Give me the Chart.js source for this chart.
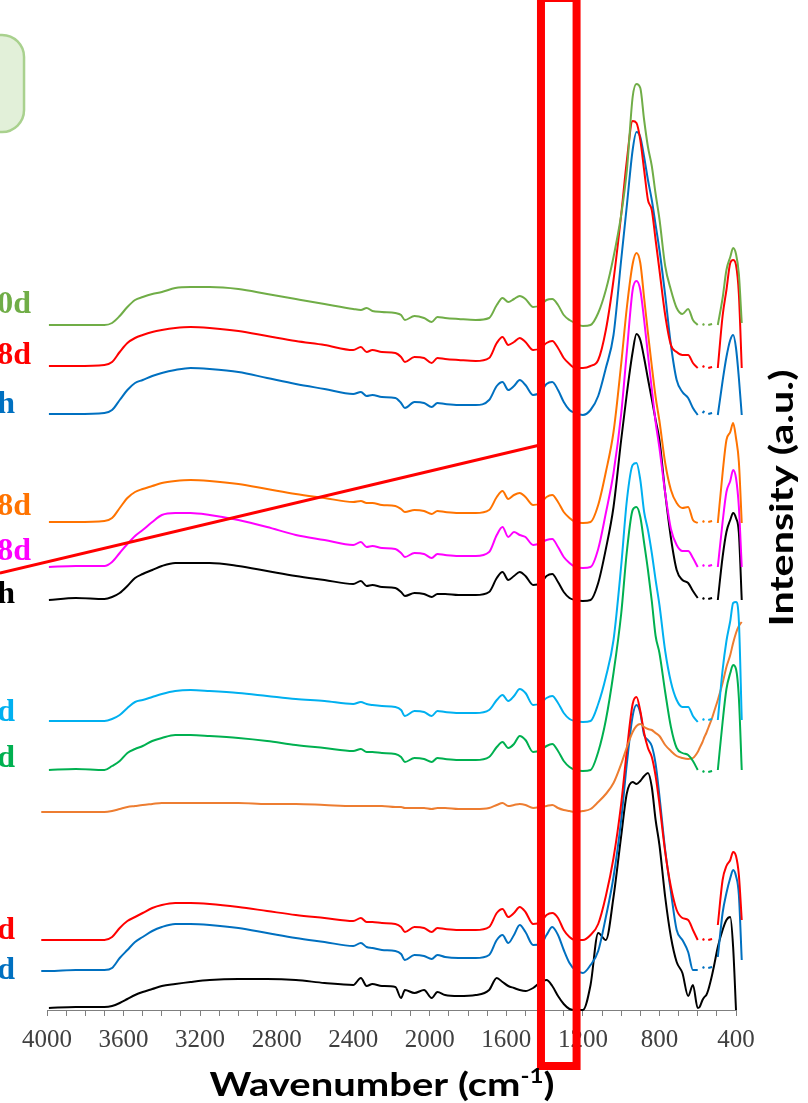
<!DOCTYPE html>
<html>
<head>
<meta charset="utf-8">
<title>FTIR spectra</title>
<script src="https://cdn.jsdelivr.net/npm/chart.js@4.4.1/dist/chart.umd.min.js"></script>
<style>
  html, body { margin: 0; padding: 0; background: #fff; }
  #wrap { width: 808px; height: 1103px; }
</style>
</head>
<body>
<div id="wrap"><canvas id="ftir" width="808" height="1103"></canvas></div>
<script>
'use strict';

// ── Data ────────────────────────────────────────────────────────────────
// shared wavenumber grid (cm-1); null in a series = no data there
const wavenumbers = [
  4030, 3990, 3850, 3700, 3660, 3620, 3580, 3540, 3500, 3450, 3400, 3330, 3250, 3150, 3000, 2850, 2700, 2550,
  2400, 2360, 2330, 2300, 2250, 2180, 2150, 2130, 2080, 2030, 1990, 1960, 1920, 1850, 1760, 1690,
  1650, 1620, 1590, 1560, 1530, 1500, 1460, 1420, 1390, 1360, 1330, 1300, 1270, 1240,
  1200, 1160, 1120, 1080, 1040, 1000, 970, 940, 920, 900, 880, 860, 840, 820, 800, 770, 740, 710, 680, 650, 625,
  600, 590, 575, 565, 555, 545, 525, 515, 495, 470, 450, 430, 415, 400, 385, 370
];

// stacked intensities (a.u.), top spectrum first
const green0d = [
  null, 685, 685, 685, 687, 694, 703, 710, 713, 716, 718, 722, 723, 723, 721, 716, 711, 706,
  701, 700, 702, 699, 698, 697, 695, 690, 694, 692, 688, 693, 692, 691, 690, 692,
  705, 712, 708, 711, 714, 711, 703, 705, 710, 711, 705, 695, 690, 687,
  684, 685, 697, 720, 753, 795, 840, 913, 926, 922, 890, 863, 844, 816, 791, 744, 720, 702, 696, 701, 690,
  685, null, 685, 686, null, 685, 686, null, 685, 712, 740, 753, 762, 756, 736, 687
];
const red8dTop = [
  null, 644, 644, 645, 648, 658, 667, 672, 675, 678, 680, 682, 683, 682, 679, 674, 669, 665,
  660, 663, 658, 660, 658, 657, 653, 648, 653, 652, 647, 652, 651, 650, 649, 652,
  667, 673, 665, 668, 672, 668, 660, 662, 667, 669, 662, 652, 646, 642,
  642, 644, 650, 680, 730, 795, 850, 889, 887, 870, 840, 810, 800, 770, 740, 695, 665, 658, 655, 655, 647,
  642, null, 643, 644, null, 642, 643, null, 642, 694, 720, 747, 750, 745, 716, 642
];
const blueHTop = [
  null, 596, 596, 597, 600, 610, 620, 627, 630, 634, 637, 640, 642, 641, 638, 632, 626, 621,
  616, 618, 614, 615, 613, 612, 607, 602, 608, 607, 603, 607, 606, 605, 605, 610,
  624, 628, 620, 624, 630, 625, 615, 618, 626, 628, 620, 608, 600, 597,
  595, 600, 614, 642, 675, 750, 805, 860, 878, 873, 853, 830, 810, 785, 760, 715, 665, 630, 618, 612, 602,
  595, null, 597, 599, null, 596, 597, null, 595, 629, 653, 670, 675, 662, 632, 595
];
const orange8d = [
  null, 488, 488, 489, 492, 502, 512, 518, 521, 524, 527, 529, 530, 529, 526, 521, 516, 512,
  508, 509, 507, 507, 505, 504, 501, 498, 500, 499, 496, 499, 498, 497, 497, 500,
  513, 519, 511, 515, 517, 513, 505, 507, 513, 515, 508, 498, 492, 488,
  487, 488, 505, 538, 578, 646, 703, 746, 757, 747, 712, 677, 644, 613, 589, 547, 520, 507, 502, 503, 490,
  487, null, 488, 489, null, 488, 489, null, 487, 537, 570, 578, 587, 572, 548, 487
];
const magenta8d = [
  null, 443, 444, 444, 448, 457, 466, 474, 480, 488, 495, 497, 497, 495, 490, 483, 475, 470,
  465, 468, 463, 464, 462, 461, 457, 453, 457, 456, 452, 456, 455, 454, 454, 458,
  475, 483, 473, 478, 475, 473, 465, 467, 470, 471, 463, 453, 447, 443,
  442, 443, 461, 497, 537, 596, 659, 720, 729, 720, 690, 655, 621, 588, 562, 517, 481, 465, 459, 459, 452,
  443, null, 444, 445, null, 444, 445, null, 443, 488, 518, 529, 540, 532, 503, 443
];
const blackH = [
  null, 410, 412, 411, 413, 417, 424, 432, 436, 440, 444, 447, 447, 447, 444, 439, 434, 430,
  426, 429, 424, 425, 423, 422, 418, 414, 417, 416, 413, 416, 416, 415, 415, 418,
  432, 438, 430, 434, 438, 434, 425, 427, 434, 436, 428, 418, 412, 410,
  409, 410, 427, 461, 503, 570, 617, 658, 676, 670, 652, 631, 611, 590, 570, 517, 472, 440, 430, 427, 419,
  412, null, 411, 412, null, 411, 412, null, 410, 453, 478, 490, 497, 492, 477, 410
];
const skyBlueD = [
  null, 289, 289, 289, 291, 295, 302, 308, 310, 313, 316, 319, 320, 319, 317, 314, 311, 309,
  306, 308, 306, 305, 304, 303, 300, 294, 299, 298, 294, 299, 298, 297, 297, 300,
  310, 315, 309, 314, 321, 317, 305, 307, 312, 314, 307, 297, 291, 289,
  288, 289, 306, 333, 370, 444, 510, 545, 547, 530, 498, 480, 457, 430, 405, 359, 328, 310, 303, 303, 294,
  288, null, 290, 291, null, 290, 291, null, 290, 340, 369, 389, 407, 408, 389, 290
];
const greenD = [
  null, 240, 241, 240, 244, 249, 257, 261, 264, 269, 272, 275, 275, 274, 272, 269, 265, 262,
  259, 261, 258, 258, 257, 256, 253, 248, 252, 251, 248, 252, 251, 250, 250, 253,
  263, 268, 262, 266, 274, 270, 258, 260, 264, 266, 259, 249, 243, 240,
  239, 240, 258, 290, 337, 396, 459, 500, 503, 493, 467, 440, 409, 374, 357, 318, 283, 262, 257, 255, 249,
  240, null, 238, 239, null, 238, 239, null, 240, 288, 321, 337, 345, 341, 312, 240
];
const orangeFlat = [
  198, 198, 198, 198, 199, 201, 203, 204, 205, 206, 207, 207, 207, 207, 207, 206, 206, 205,
  204, 204, 204, 204, 204, 203, 203, 202, 202, 202, 201, 202, 202, 201, 201, 202,
  205, 207, 204, 205, 206, 205, 202, 203, 204, 205, 202, 200, 199, 198,
  199, 201, 208, 216, 227, 246, 263, 278, 284, 286, 283, 281, 280, 277, 274, 265, 259, 254, 252, 251, 252,
  258, 262, 268, 273, 277, 282, 292, 298, 310, 327, 343, 355, 367, 377, 384, 388
];
const redD = [
  70, 70, 70, 70, 73, 82, 89, 93, 97, 102, 105, 107, 107, 106, 103, 99, 95, 92,
  89, 92, 88, 88, 87, 86, 83, 78, 83, 82, 78, 82, 81, 80, 80, 83,
  97, 101, 93, 97, 103, 98, 86, 88, 95, 97, 92, 80, 73, 70,
  70, 75, 86, 114, 152, 206, 260, 306, 313, 299, 277, 262, 253, 234, 206, 158, 123, 100, 92, 90, 80,
  70, null, 70, 71, null, 70, 71, null, 85, 130, 144, 150, 158, 154, 135, 90
];
const blueD = [
  39, 39, 40, 40, 42, 52, 60, 68, 73, 79, 83, 86, 86, 85, 82, 77, 72, 68,
  64, 67, 63, 62, 60, 59, 56, 50, 55, 54, 51, 55, 53, 52, 52, 55,
  70, 75, 67, 75, 85, 78, 65, 66, 75, 83, 75, 60, 47, 40,
  37, 45, 59, 93, 133, 190, 247, 294, 305, 297, 275, 270, 264, 246, 214, 160, 118, 80, 70, 58, 40,
  40, null, 42, 43, null, 42, 43, null, 53, 97, 117, 132, 140, 134, 115, 50
];
const blackRaw = [
  null, 2, 3, 3, 4, 7, 11, 15, 18, 21, 24, 26, 28, 30, 31, 31, 30, 27,
  25, 32, 24, 26, 24, 23, 12, 20, 17, 20, 12, 18, 15, 14, 15, 20,
  32, 28, 24, 22, 20, 19, 22, 28, 30, 24, 14, 6, 1, 0,
  0, 25, 77, 70, 113, 174, 217, 228, 226, 229, 234, 237, 223, 190, 165, 113, 73, 48, 37, 14, 25,
  2, 3, 10, 13, 15, 20, 35, 44, 63, 80, 90, 93, 63, 0, null, null
];

const seriesData = [green0d, red8dTop, blueHTop, orange8d, magenta8d, blackH,
  skyBlueD, greenD, orangeFlat, redD, blueD, blackRaw];
const seriesColors = ['#70AD47', '#FF0000', '#0070C0', '#FF7300', '#FF00FF', '#000000',
  '#00B0F0', '#00B050', '#ED7D31', '#FF0000', '#0070C0', '#000000'];
// visible (cut off) fragments of the sample names at the left edge
const seriesLabels = ['0d', '8d', 'h', '8d', '8d', 'h', 'd', 'd', null, 'd', 'd', null];
const tickLabels = [4000, 3600, 3200, 2800, 2400, 2000, 1600, 1200, 800, 400];

// ── Overlay: names, highlight box, axis titles ──────────────────────────
const labelY = [697, 646, 597, 495, 450, 407, 289, 243, null, 71, 31];

function drawScaledText(ctx, parts, x, y, targetW, angle) {
  let total = 0;
  parts.forEach(p => { ctx.font = p.font; p.w = ctx.measureText(p.text).width; total += p.w; });
  ctx.save();
  ctx.translate(x, y);
  if (angle) ctx.rotate(angle);
  ctx.scale(targetW / total, 1);
  ctx.textBaseline = 'alphabetic';
  ctx.textAlign = 'left';
  let cx = -total / 2;
  parts.forEach(p => {
    ctx.font = p.font;
    ctx.fillText(p.text, cx, p.dy || 0);
    cx += p.w;
  });
  ctx.restore();
}

const overlay = {
  id: 'overlay',
  afterDraw(chart) {
    const { ctx, scales: { x, y } } = chart;
    ctx.save();

    // green rounded box, top left
    const bx0 = x.getPixelForValue(4420), bx1 = x.getPixelForValue(4120);
    const by0 = y.getPixelForValue(975), by1 = y.getPixelForValue(878);
    ctx.beginPath();
    ctx.roundRect(bx0, by0, bx1 - bx0, by1 - by0, 22);
    ctx.fillStyle = '#E2F0D9';
    ctx.fill();
    ctx.lineWidth = 2.5;
    ctx.strokeStyle = '#A9D18E';
    ctx.stroke();

    // sample names
    ctx.font = 'bold 32px "Liberation Serif"';
    ctx.textAlign = 'right';
    ctx.textBaseline = 'alphabetic';
    seriesLabels.forEach((t, i) => {
      if (!t) return;
      const xr = x.getPixelForValue(t.length > 1 ? 4084 : 4167);
      ctx.fillStyle = seriesColors[i];
      ctx.fillText(t, xr, y.getPixelForValue(labelY[i]));
    });

    // red pointer line + highlight box
    ctx.strokeStyle = '#FF0000';
    ctx.lineWidth = 3;
    ctx.beginPath();
    ctx.moveTo(x.getPixelForValue(4246), y.getPixelForValue(437));
    ctx.lineTo(x.getPixelForValue(1424), y.getPixelForValue(565));
    ctx.stroke();

    const rx0 = x.getPixelForValue(1419), rx1 = x.getPixelForValue(1233);
    const ry0 = y.getPixelForValue(1012), ry1 = y.getPixelForValue(-56);
    ctx.lineWidth = 8;
    ctx.strokeRect(rx0, ry0, rx1 - rx0, ry1 - ry0);

    // axis titles
    ctx.fillStyle = '#000';
    drawScaledText(ctx, [
      { text: 'Wavenumber (cm', font: 'bold 33px Lato' },
      { text: '-1', font: 'bold 20px Lato', dy: -13 },
      { text: ')', font: 'bold 33px Lato' }
    ], 382, 1096, 345, 0);
    drawScaledText(ctx, [{ text: 'Intensity (a.u.)', font: 'bold 33px Lato' }],
      793, 498, 257, -Math.PI / 2);

    ctx.restore();
  }
};

// ── Chart ───────────────────────────────────────────────────────────────
const datasets = seriesData.map((s, i) => ({
  data: wavenumbers.map((w, j) => ({ x: w, y: s[j] })),
  borderColor: seriesColors[i],
  backgroundColor: 'transparent',
  borderWidth: 2,
  pointRadius: 0,
  spanGaps: false,
  clip: false
}));

new Chart(document.getElementById('ftir'), {
  type: 'line',
  data: { datasets },
  options: {
    responsive: false,
    animation: false,
    events: [],
    layout: { padding: { left: 47, right: 72, top: 0, bottom: 0 } },
    plugins: { legend: { display: false }, tooltip: { enabled: false } },
    elements: { line: { cubicInterpolationMode: 'monotone', capBezierPoints: false } },
    scales: {
      x: {
        type: 'linear',
        reverse: true,
        min: 400,
        max: 4000,
        afterFit: s => { s.height = 93; },
        border: { display: true, color: '#7F7F7F', width: 1 },
        grid: { drawOnChartArea: false, drawTicks: true, tickLength: 6, tickColor: '#7F7F7F' },
        ticks: {
          stepSize: 100,
          autoSkip: false,
          maxRotation: 0,
          minRotation: 0,
          padding: 9,
          color: '#404040',
          font: { family: 'Liberation Serif', size: 25 },
          callback: v => tickLabels.includes(v) ? String(v) : ''
        }
      },
      y: { display: false, min: 0, max: 1010 }
    }
  },
  plugins: [overlay]
});
</script>
</body>
</html>
